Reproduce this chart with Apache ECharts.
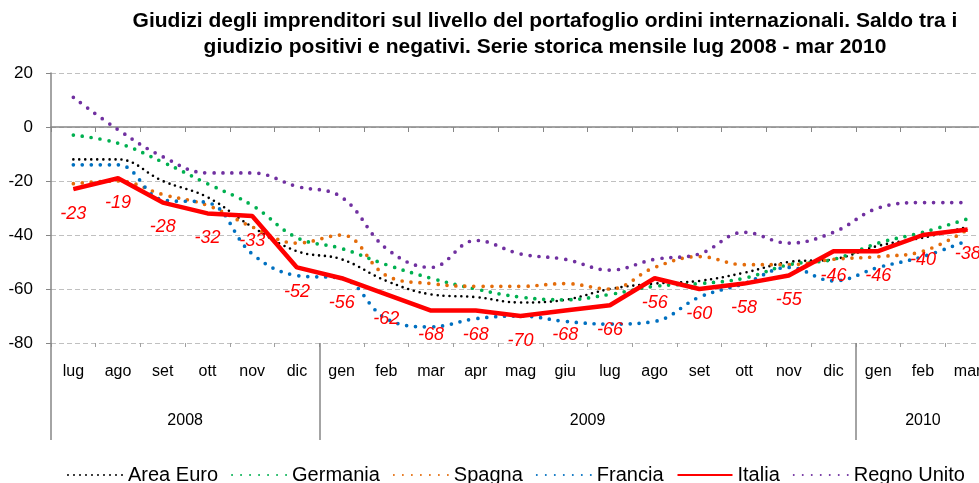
<!DOCTYPE html>
<html lang="it">
<head>
<meta charset="UTF-8">
<script src="https://cdn.jsdelivr.net/npm/echarts@6/dist/echarts.min.js"></script>
<style>
  html, body { margin: 0; padding: 0; background: #fff; }
  #chart { width: 979px; height: 483px; }
</style>
</head>
<body>
<div id="chart"></div>
<script type="text/javascript">
// mesi lug 2008 - mar 2010
var mesi = ['lug','ago','set','ott','nov','dic','gen','feb','mar','apr','mag','giu','lug','ago','set','ott','nov','dic','gen','feb','mar'];
// asse anni: mezze posizioni, etichette al centro di ogni anno
var anniPos = [];
for (var k = 0; k <= 42; k++) anniPos.push('');
anniPos[6] = '2008'; anniPos[24] = '2009'; anniPos[39] = '2010';
var confiniAnni = [0, 12, 36, 42];

var areaEuro   = [-12, -12, -20, -26, -37, -46, -49, -57, -62, -63, -65, -64, -60, -58, -57, -54, -50, -49, -44, -41, -37];
var germania   = [-3, -6, -13, -21, -29, -41, -45, -51, -56, -60, -63, -64, -62, -59, -58, -56, -51, -49, -43, -39, -34];
var spagna     = [-21, -20, -25, -29, -37, -43, -40, -55, -58, -59, -59, -58, -60, -52, -48, -51, -51, -49, -48, -46, -38];
var francia    = [-14, -14, -27, -28, -47, -55, -56, -71, -74, -71, -70, -72, -73, -72, -63, -58, -52, -57, -52, -48, -42];
var italia     = [-23, -19, -28, -32, -33, -52, -56, -62, -68, -68, -70, -68, -66, -56, -60, -58, -55, -46, -46, -40, -38];
var regnoUnito = [11, -1, -11, -17, -17, -22, -26, -45, -52, -42, -47, -49, -53, -49, -47, -39, -43, -39, -30, -28, -28];

var chart = echarts.init(document.getElementById('chart'));

function dotted(nome, dati, colore, w, gap) {
    return {
        name: nome,
        type: 'line',
        xAxisIndex: 0,
        data: dati,
        smooth: 0.4,
        symbol: 'none',
        z: 2,
        lineStyle: { color: colore, width: w, type: [0, gap], cap: 'round' },
        itemStyle: { color: colore }
    };
}

var option = {
    backgroundColor: '#ffffff',
    animation: false,
    graphic: [{
        type: 'text',
        x: 545,
        y: 8,
        style: {
            text: 'Giudizi degli imprenditori sul livello del portafoglio ordini internazionali. Saldo tra i\ngiudizio positivi e negativi. Serie storica mensile lug 2008 - mar 2010',
            align: 'center',
            font: 'bold 21px Arial, "Liberation Sans", sans-serif',
            lineHeight: 26,
            fill: '#000'
        }
    }],
    legend: {
        top: 460,
        left: 62,
        itemWidth: 55,
        itemHeight: 10,
        itemGap: 13,
        itemStyle: { opacity: 0 },
        textStyle: { fontFamily: 'Arial', fontSize: 20, color: '#000' },
        data: ['Area Euro', 'Germania', 'Spagna', 'Francia', 'Italia', 'Regno Unito']
    },
    grid: { left: 51, top: 73, width: 939, height: 270, outerBoundsMode: 'none', containLabel: false },
    xAxis: [{
        type: 'category',
        data: mesi,
        position: 'bottom',
        axisLine: { onZero: true, lineStyle: { color: '#868686', width: 1.5 } },
        axisTick: { show: true, interval: 0, length: 5, inside: false, lineStyle: { color: '#868686' } },
        axisLabel: { show: false },
        splitLine: { show: false }
    }, {
        type: 'category',
        data: mesi,
        position: 'bottom',
        axisLine: { show: false, onZero: false },
        axisTick: { show: true, interval: 0, length: 4, lineStyle: { color: '#a0a0a0' } },
        axisLabel: { interval: 0, margin: 21, fontFamily: 'Arial', fontSize: 16, color: '#000' },
        splitLine: { show: false }
    }, {
        type: 'category',
        data: anniPos,
        boundaryGap: false,
        position: 'bottom',
        axisLine: { show: false, onZero: false },
        axisTick: {
            show: true,
            length: 97,
            interval: function (i) { return confiniAnni.indexOf(i) >= 0; },
            lineStyle: { color: '#868686', width: 1.5 }
        },
        axisLabel: { interval: 0, margin: 70, fontFamily: 'Arial', fontSize: 16, color: '#000' },
        splitLine: { show: false }
    }],
    yAxis: {
        type: 'value',
        min: -80,
        max: 20,
        interval: 20,
        axisLine: { show: true, lineStyle: { color: '#868686', width: 1.5 } },
        axisTick: { show: true, length: 5, lineStyle: { color: '#868686' } },
        axisLabel: { margin: 18, fontFamily: 'Arial', fontSize: 17, color: '#000' },
        splitLine: { show: true, lineStyle: { color: '#c0c0c0', type: [5, 3], width: 1 } }
    },
    series: [
        dotted('Area Euro', areaEuro, '#000000', 2.6, 6),
        dotted('Germania', germania, '#00B050', 3.7, 9),
        dotted('Spagna', spagna, '#E46C0A', 3.7, 9),
        dotted('Francia', francia, '#0070C0', 3.7, 9),
        {
            name: 'Italia',
            type: 'line',
            xAxisIndex: 0,
            data: italia,
            symbol: 'circle',
            symbolSize: 1,
            showSymbol: true,
            z: 5,
            lineStyle: { color: '#FF0000', width: 4.5 },
            itemStyle: { color: '#FF0000' },
            label: {
                show: true,
                position: 'bottom',
                distance: 15,
                fontFamily: 'Arial',
                fontStyle: 'italic',
                fontSize: 18,
                color: '#FF0000'
            }
        },
        dotted('Regno Unito', regnoUnito, '#7030A0', 3.7, 9)
    ]
};
chart.setOption(option);
</script>
</body>
</html>
